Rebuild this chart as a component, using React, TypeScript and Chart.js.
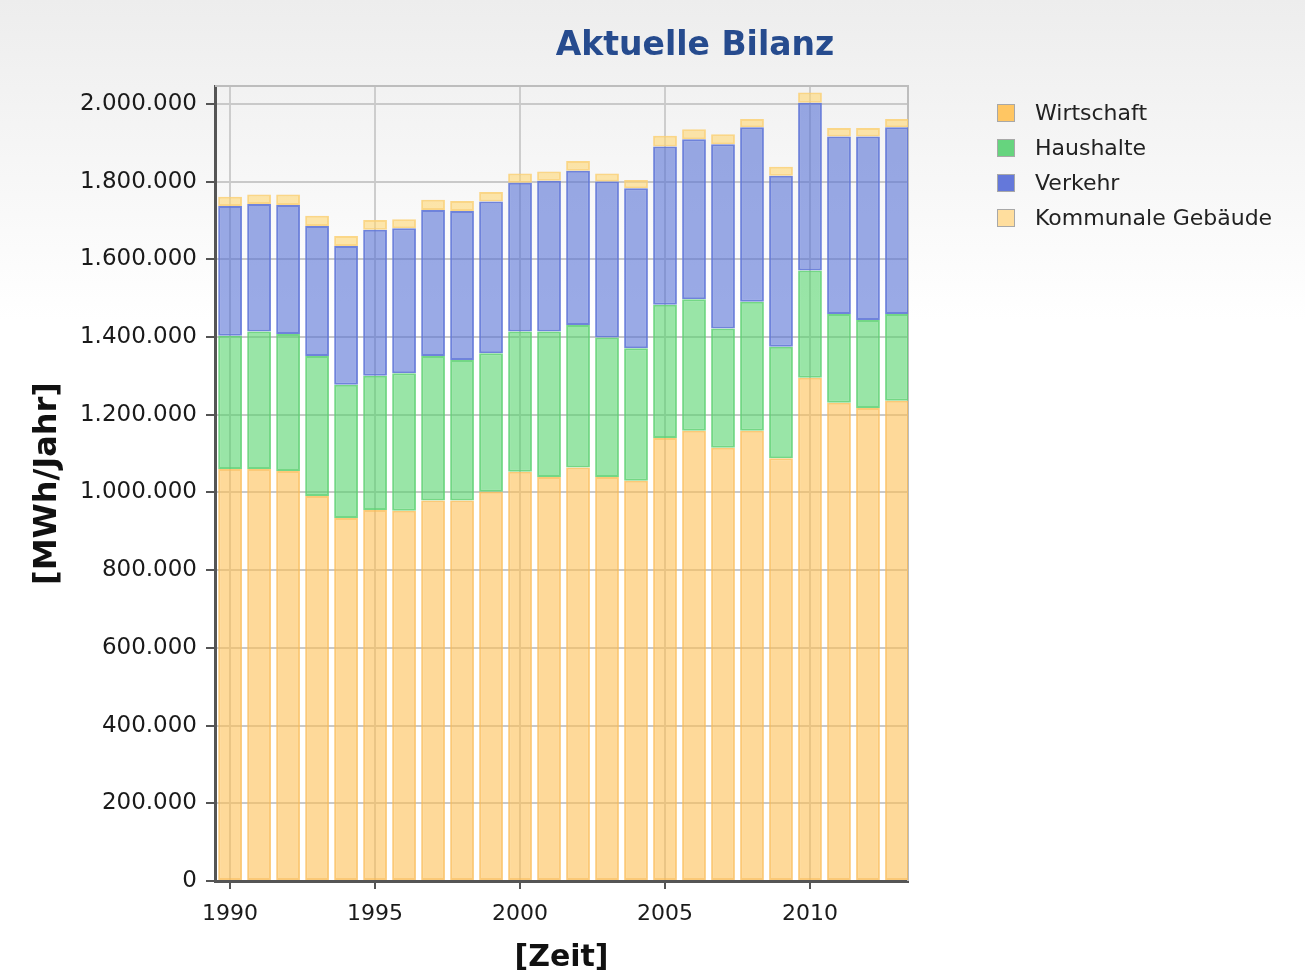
import React, { useEffect, useRef } from "react";
import { Chart, registerables } from "chart.js";

Chart.register(...registerables);

const years = [1990, 1991, 1992, 1993, 1994, 1995, 1996, 1997, 1998, 1999, 2000, 2001, 2002, 2003, 2004, 2005, 2006, 2007, 2008, 2009, 2010, 2011, 2012, 2013];
const wirtschaft = [1060000, 1060000, 1055000, 991000, 934000, 955000, 953000, 979000, 979000, 1002000, 1053000, 1040000, 1064000, 1040000, 1030000, 1140000, 1159000, 1115000, 1159000, 1088000, 1295000, 1231000, 1217000, 1236000];
const haushalte = [343000, 354000, 353000, 360000, 343000, 345000, 354000, 372000, 362000, 356000, 361000, 374000, 367000, 359000, 341000, 343000, 338000, 307000, 332000, 287000, 276000, 228000, 227000, 223000];
const verkehr = [334000, 328000, 332000, 335000, 357000, 376000, 373000, 376000, 383000, 391000, 383000, 388000, 397000, 401000, 412000, 407000, 412000, 474000, 449000, 440000, 432000, 457000, 472000, 481000];
const kommunale = [24000, 25000, 27000, 26000, 26000, 25000, 23000, 26000, 26000, 24000, 24000, 24000, 25000, 21000, 21000, 28000, 26000, 26000, 21000, 23000, 26000, 22000, 22000, 21000];

const xTickYears = [1990, 1995, 2000, 2005, 2010];
const yTickValues = [0, 200000, 400000, 600000, 800000, 1000000, 1200000, 1400000, 1600000, 1800000, 2000000];

const seriesNames = ["Wirtschaft", "Haushalte", "Verkehr", "Kommunale Gebäude"];
const legendColors = ["#FFC663", "#66D47E", "#6478DA", "#FFDE9E"];
const fillColors = ["rgba(254,192,85,0.6)", "rgba(85,212,109,0.6)", "rgba(87,114,214,0.6)", "rgba(255,215,115,0.6)"];
const borderColors = ["rgba(250,188,85,0.8)", "rgba(90,208,112,0.85)", "rgba(95,118,215,0.9)", "rgba(250,208,115,0.85)"];

const titleText = "Aktuelle Bilanz";
const FONT = "'DejaVu Sans', Verdana, sans-serif";

function formatDE(v: number): string {
  return String(Math.round(v)).replace(/\B(?=(\d{3})+(?!\d))/g, ".");
}

const titlePlugin = {
  id: "customTitle",
  afterDraw(chart: any) {
    const ctx = chart.ctx;
    ctx.save();
    ctx.font = `bold 33px ${FONT}`;
    ctx.fillStyle = "#264B8E";
    ctx.textAlign = "center";
    ctx.textBaseline = "middle";
    ctx.fillText(titleText, 695, 46);
    ctx.restore();
  },
};

const framePlugin = {
  id: "frame",
  beforeDatasetsDraw(chart: any) {
    const { ctx, chartArea } = chart;
    ctx.save();
    ctx.strokeStyle = "#BDBDBD";
    ctx.lineWidth = 2;
    ctx.beginPath();
    ctx.moveTo(chartArea.left, chartArea.top);
    ctx.lineTo(chartArea.right, chartArea.top);
    ctx.lineTo(chartArea.right, chartArea.bottom);
    ctx.stroke();
    ctx.restore();
  },
};

export default function App() {
  const canvasRef = useRef<HTMLCanvasElement | null>(null);

  useEffect(() => {
    document.body.style.margin = "0";
    const series = [wirtschaft, haushalte, verkehr, kommunale];
    const chart = new Chart(canvasRef.current as HTMLCanvasElement, {
      type: "bar",
      data: {
        datasets: series.map((vals, i) => ({
          label: seriesNames[i],
          data: vals.map((v, j) => ({ x: years[j], y: v })),
          backgroundColor: fillColors[i],
          borderColor: borderColors[i],
          borderWidth: 2,
          borderSkipped: false,
          barPercentage: 0.82,
          categoryPercentage: 1,
        })),
      },
      options: {
        responsive: false,
        animation: false,
        layout: { padding: { left: 0, right: 1305 - 908, top: 86, bottom: 0 } },
        plugins: {
          legend: { display: false },
          title: { display: false },
          tooltip: { enabled: false },
        },
        scales: {
          x: {
            type: "linear",
            stacked: true,
            offset: false,
            min: 1989.48,
            max: 2013.38,
            afterBuildTicks: (scale: any) => {
              scale.ticks = xTickYears.map((v) => ({ value: v }));
            },
            afterFit: (scale: any) => {
              scale.height = 976 - 881;
            },
            ticks: {
              callback: (v: any) => String(v),
              font: { family: FONT, size: 22 },
              color: "#1A1A1A",
              padding: 12,
              maxRotation: 0,
            },
            grid: {
              offset: false,
              color: "#CDCDCD",
              lineWidth: 2,
              tickLength: 8,
              tickColor: "#555",
              tickWidth: 2,
            },
            border: { color: "#555", width: 3 },
            title: {
              display: true,
              text: "[Zeit]",
              font: { family: FONT, size: 30, weight: "bold" },
              color: "#111",
              padding: { top: 0, bottom: 0 },
            },
          },
          y: {
            stacked: true,
            min: 0,
            max: 2046000,
            afterBuildTicks: (scale: any) => {
              scale.ticks = yTickValues.map((v) => ({ value: v }));
            },
            afterFit: (scale: any) => {
              scale.width = 215;
            },
            ticks: {
              callback: (v: any) => formatDE(Number(v)),
              font: { family: FONT, size: 23 },
              color: "#1A1A1A",
              padding: 9,
            },
            grid: {
              color: "#C9C9C9",
              lineWidth: 2,
              tickLength: 9,
              tickColor: "#555",
              tickWidth: 2,
            },
            border: { color: "#555", width: 3 },
            title: {
              display: true,
              text: "[MWh/Jahr]",
              font: { family: FONT, size: 32, weight: "bold" },
              color: "#111",
              padding: { top: 28, bottom: 0 },
            },
          },
        },
      },
      plugins: [framePlugin, titlePlugin],
    } as any);
    return () => chart.destroy();
  }, []);

  return (
    <div
      style={{
        position: "absolute",
        left: 0,
        top: 0,
        width: 1305,
        height: 976,
        background: "linear-gradient(#EDEDED 0px, #FFFFFF 320px)",
        overflow: "hidden",
      }}
    >
      <canvas ref={canvasRef} width={1305} height={976} style={{ position: "absolute", left: 0, top: 0 }} />
      <div style={{ position: "absolute", left: 997, top: 95, fontFamily: FONT, fontSize: 22, color: "#222" }}>
        {seriesNames.map((name, i) => (
          <div key={name} style={{ display: "flex", alignItems: "center", height: 35 }}>
            <span
              style={{
                display: "inline-block",
                width: 18,
                height: 18,
                boxSizing: "border-box",
                background: legendColors[i],
                border: "1px solid #A8A8A8",
                marginRight: 20,
              }}
            />
            <span>{name}</span>
          </div>
        ))}
      </div>
    </div>
  );
}
